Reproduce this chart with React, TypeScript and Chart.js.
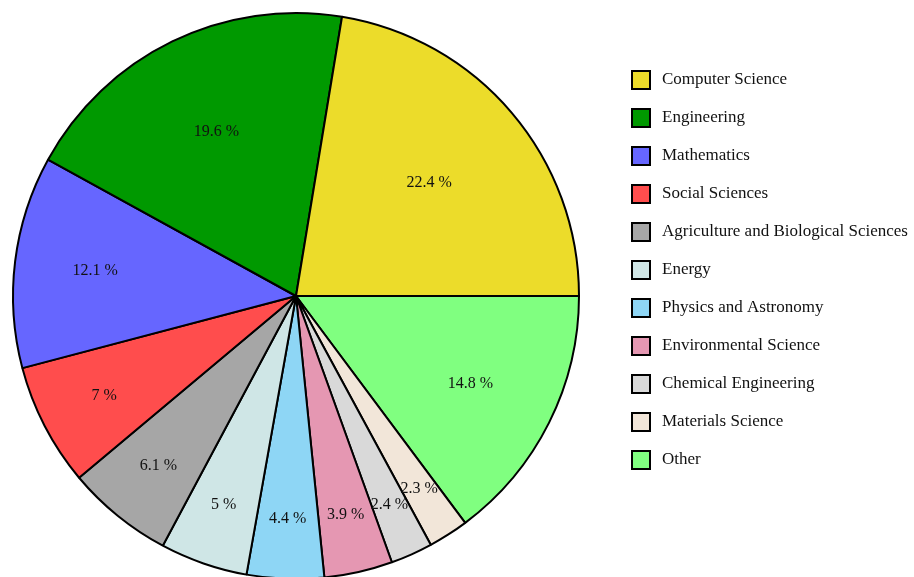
import React, { useEffect, useRef } from "react";
import { Chart, registerables } from "chart.js";

Chart.register(...registerables);

const categories = [
  "Computer Science",
  "Engineering",
  "Mathematics",
  "Social Sciences",
  "Agriculture and Biological Sciences",
  "Energy",
  "Physics and Astronomy",
  "Environmental Science",
  "Chemical Engineering",
  "Materials Science",
  "Other",
];
const shares = [22.4, 19.6, 12.1, 7, 6.1, 5, 4.4, 3.9, 2.4, 2.3, 14.8];
const colors = [
  "#ECDC2A",
  "#009900",
  "#6666FF",
  "#FF4D4D",
  "#A6A6A6",
  "#CFE6E6",
  "#8ED6F5",
  "#E597B2",
  "#D9D9D9",
  "#F2E6D9",
  "#80FF80",
];

const FONT = "'Liberation Serif', 'DejaVu Serif', serif";

// Chart.js draws clockwise; the reference runs counter-clockwise from 3 o'clock.
const revLabels = [...categories].reverse();
const revData = [...shares].reverse();
const revColors = [...colors].reverse();

const sliceLabels = {
  id: "sliceLabels",
  afterDatasetsDraw(chart: any) {
    const ctx = chart.ctx;
    const meta = chart.getDatasetMeta(0);
    const total = revData.reduce((a, b) => a + b, 0);
    ctx.save();
    ctx.font = `16px ${FONT}`;
    ctx.fillStyle = "#111";
    ctx.textAlign = "center";
    ctx.textBaseline = "middle";
    meta.data.forEach((arc: any, i: number) => {
      const { x, y, startAngle, endAngle, outerRadius } = arc.getProps(
        ["x", "y", "startAngle", "endAngle", "outerRadius"],
        true
      );
      const f = revData[i] / total;
      const mid = (startAngle + endAngle) / 2;
      const r = outerRadius * (0.83 - 0.95 * f);
      ctx.fillText(`${revData[i]} %`, x + Math.cos(mid) * r, y + Math.sin(mid) * r);
    });
    ctx.restore();
  },
};

const sideLegend = {
  id: "sideLegend",
  afterDraw(chart: any) {
    const ctx = chart.ctx;
    ctx.save();
    const x0 = 632;
    const y0 = 80;
    const step = 38;
    ctx.font = `17px ${FONT}`;
    ctx.textBaseline = "middle";
    ctx.textAlign = "left";
    categories.forEach((name, i) => {
      const cy = y0 + i * step;
      ctx.fillStyle = colors[i];
      ctx.fillRect(x0, cy - 9, 18, 18);
      ctx.lineWidth = 2;
      ctx.strokeStyle = "#000";
      ctx.strokeRect(x0, cy - 9, 18, 18);
      ctx.fillStyle = "#111";
      ctx.fillText(name, x0 + 30, cy);
    });
    ctx.restore();
  },
};

export default function App() {
  const ref = useRef<HTMLCanvasElement | null>(null);
  useEffect(() => {
    if (!ref.current) return;
    const chart = new Chart(ref.current, {
      type: "pie",
      data: {
        labels: revLabels,
        datasets: [
          {
            data: revData,
            backgroundColor: revColors,
            borderColor: "#000",
            borderWidth: 2,
          },
        ],
      },
      options: {
        animation: false,
        responsive: false,
        rotation: 90,
        layout: { padding: { left: 12, top: 12, right: 334, bottom: 12 } },
        plugins: {
          legend: { display: false },
          tooltip: { enabled: false },
        },
      },
      plugins: [sliceLabels, sideLegend],
    });
    return () => chart.destroy();
  }, []);
  return (
    <div
      style={{
        position: "fixed",
        left: 0,
        top: 0,
        width: 914,
        height: 577,
        overflow: "hidden",
        background: "#fff",
      }}
    >
      <canvas ref={ref} width={914} height={592} style={{ display: "block" }} />
    </div>
  );
}
